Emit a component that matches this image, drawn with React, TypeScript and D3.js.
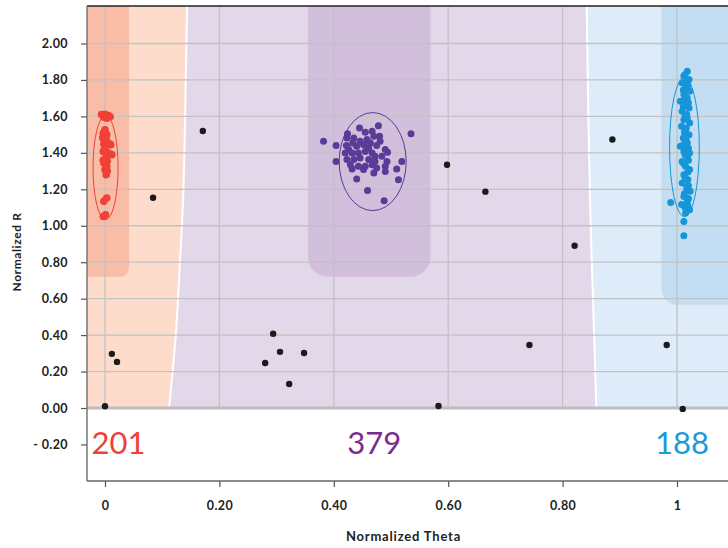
import React, { useEffect, useRef } from 'react'
import * as d3 from 'd3'

const width = 728
const height = 548

// [theta, r]
const redPoints = [
  [-0.006, 1.61], [0, 1.612], [0.006, 1.605], [-0.002, 1.595], [0.009, 1.598], [0.003, 1.59],
  [0, 1.527], [-0.003, 1.509], [0.003, 1.5], [-0.004, 1.482], [0.002, 1.473], [-0.002, 1.449],
  [0.006, 1.454], [0.01, 1.445], [0, 1.427], [-0.003, 1.408], [0.006, 1.399], [0.012, 1.39],
  [0.002, 1.375], [-0.003, 1.36], [0.004, 1.355], [-0.002, 1.344], [0.003, 1.326], [0, 1.308],
  [0.004, 1.3], [0.002, 1.28], [-0.002, 1.134], [0.003, 1.152], [-0.003, 1.051], [0.001, 1.06]
]

const purplePoints = [
  [0.382, 1.463], [0.404, 1.441], [0.404, 1.353], [0.535, 1.505], [0.478, 1.549], [0.445, 1.537],
  [0.424, 1.505], [0.423, 1.482], [0.435, 1.482], [0.455, 1.513], [0.467, 1.518], [0.47, 1.491],
  [0.48, 1.491], [0.458, 1.473], [0.446, 1.463], [0.433, 1.454], [0.422, 1.44], [0.426, 1.418],
  [0.44, 1.436], [0.452, 1.445], [0.464, 1.454], [0.475, 1.44], [0.49, 1.418], [0.494, 1.403],
  [0.42, 1.399], [0.432, 1.399], [0.443, 1.399], [0.455, 1.408], [0.467, 1.399], [0.472, 1.381],
  [0.484, 1.381], [0.423, 1.363], [0.435, 1.363], [0.446, 1.372], [0.461, 1.363], [0.472, 1.353],
  [0.493, 1.353], [0.519, 1.353], [0.429, 1.335], [0.443, 1.326], [0.455, 1.326], [0.467, 1.335],
  [0.475, 1.317], [0.49, 1.326], [0.51, 1.311], [0.432, 1.311], [0.452, 1.308], [0.47, 1.29],
  [0.49, 1.298], [0.44, 1.256], [0.513, 1.253], [0.459, 1.194], [0.488, 1.137], [0.481, 1.463],
  [0.461, 1.427]
]

const bluePoints = [
  [1.018, 1.848], [1.012, 1.821], [1.021, 1.802], [1.009, 1.784], [1.015, 1.756], [1.022, 1.738],
  [1.012, 1.72], [1.018, 1.701], [1.006, 1.683], [1.015, 1.665], [1.021, 1.646], [1.009, 1.628],
  [1.017, 1.61], [1.012, 1.582], [1.022, 1.564], [1.008, 1.546], [1.015, 1.527], [1.021, 1.5],
  [1.011, 1.481], [1.018, 1.454], [1.006, 1.436], [1.015, 1.418], [1.022, 1.399], [1.012, 1.408],
  [1.018, 1.381], [1.009, 1.353], [1.015, 1.326], [1.022, 1.308], [1.012, 1.28], [1.019, 1.253],
  [1.009, 1.234], [1.017, 1.207], [1.023, 1.189], [1.012, 1.161], [1.018, 1.134], [1.008, 1.116],
  [1.022, 1.088], [1.015, 1.07], [1.012, 1.024], [0.989, 1.128], [1.012, 0.945],
  [1.014, 1.83], [1.016, 1.79], [1.019, 1.77], [1.011, 1.745], [1.013, 1.69], [1.02, 1.675],
  [1.011, 1.655], [1.014, 1.6], [1.018, 1.59], [1.016, 1.535], [1.013, 1.515], [1.016, 1.47],
  [1.011, 1.445], [1.02, 1.425], [1.014, 1.39], [1.02, 1.36], [1.012, 1.34], [1.019, 1.295],
  [1.014, 1.265], [1.02, 1.22], [1.013, 1.175], [1.02, 1.15], [1.014, 1.1], [1.019, 1.11]
]

const outliers = [
  [0, 0.01], [0.012, 0.297], [0.021, 0.253], [0.084, 1.154], [0.171, 1.52], [0.294, 0.407],
  [0.306, 0.308], [0.28, 0.247], [0.348, 0.302], [0.322, 0.132], [0.583, 0.011], [0.598, 1.335],
  [0.665, 1.187], [0.742, 0.346], [0.821, 0.89], [0.887, 1.473], [0.982, 0.346], [1.01, -0.005]
]

// cluster ellipses, data units
const ellipses = [
  { color: '#ef4136', cx: 0.001, cy: 1.319, rx: 0.0219, ry: 0.286 },
  { color: '#5b3a98', cx: 0.468, cy: 1.352, rx: 0.0586, ry: 0.269 },
  { color: '#1696d8', cx: 1.013, cy: 1.431, rx: 0.026, ry: 0.382 }
]

const counts = [
  { label: '201', theta: 0.0236, color: '#ef4136' },
  { label: '379', theta: 0.4707, color: '#7b2a8e' },
  { label: '188', theta: 1.0087, color: '#1a9bd7' }
]

// region boundaries (theta at each r)
const boundaryR = [2.21, 1.6, 1.14, 0.8, 0.41, 0]
const boundaryLeft = [0.1435, 0.14, 0.1365, 0.131, 0.124, 0.112]
const boundaryRight = [0.842, 0.845, 0.848, 0.851, 0.855, 0.859]

// darker core bands: [theta0, theta1, bottom r]
const cores = [
  { t0: -0.1, t1: 0.042, r: 0.72, color: '#f9bca7', rad: 9 },
  { t0: 0.355, t1: 0.569, r: 0.72, color: '#d1bfdb', rad: 20 },
  { t0: 0.973, t1: 1.3, r: 0.566, color: '#c3def3', rad: 16 }
]

const yTicks = [-0.2, 0, 0.2, 0.4, 0.6, 0.8, 1.0, 1.2, 1.4, 1.6, 1.8, 2.0]
const xTicks = [0, 0.2, 0.4, 0.6, 0.8, 1]

const font = 'Lato, "Open Sans", sans-serif'

export default function App() {
  const svgRef = useRef<SVGSVGElement>(null)

  useEffect(() => {
    const svg = d3.select(svgRef.current)
    svg.selectAll('*').remove()

    const left = 87
    const right = 728
    const top = 6
    const bottom = 481

    const x = d3.scaleLinear().domain([0, 1]).range([105, 677])
    const y = d3.scaleLinear().domain([0, 2]).range([408, 43.5])
    const tMin = x.invert(left)
    const tMax = x.invert(right)

    svg.append('clipPath').attr('id', 'plot-area')
      .append('rect')
      .attr('x', left).attr('y', top)
      .attr('width', right - left).attr('height', y(0) - top)

    const bg = svg.append('g').attr('clip-path', 'url(#plot-area)')
    const rows = boundaryR.map((r, i) => ({ r, a: boundaryLeft[i], b: boundaryRight[i] }))

    const area = (x0, x1) => d3.area<any>()
      .y(d => y(d.r)).x0(x0).x1(x1)
      .curve(d3.curveMonotoneY)

    bg.append('path').datum(rows).attr('fill', '#fddccc')
      .attr('d', area(() => x(tMin), d => x(d.a)))
    bg.append('path').datum(rows).attr('fill', '#e2d8e9')
      .attr('d', area(d => x(d.a), d => x(d.b)))
    bg.append('path').datum(rows).attr('fill', '#ddecf8')
      .attr('d', area(d => x(d.b), () => x(tMax)))

    bg.selectAll('rect.core').data(cores).join('rect')
      .attr('class', 'core')
      .attr('x', d => x(d.t0)).attr('width', d => x(d.t1) - x(d.t0))
      .attr('y', -100).attr('height', d => y(d.r) + 100)
      .attr('rx', d => d.rad).attr('fill', d => d.color)

    const edge = (key) => d3.line<any>().x(d => x(d[key])).y(d => y(d.r)).curve(d3.curveMonotoneY)
    bg.append('path').datum(rows).attr('d', edge('a'))
      .attr('fill', 'none').attr('stroke', '#fff').attr('stroke-width', 2)
    bg.append('path').datum(rows).attr('d', edge('b'))
      .attr('fill', 'none').attr('stroke', '#fff').attr('stroke-width', 2)

    // grid
    const grid = svg.append('g').attr('stroke', '#c2c2c2').attr('stroke-width', 1.3)
    grid.selectAll('line.v').data(xTicks).join('line')
      .attr('class', 'v')
      .attr('x1', d => x(d)).attr('x2', d => x(d))
      .attr('y1', top).attr('y2', y(0))
    grid.selectAll('line.h').data(yTicks.filter(d => d > 0)).join('line')
      .attr('class', 'h')
      .attr('x1', left).attr('x2', right)
      .attr('y1', d => y(d)).attr('y2', d => y(d))

    svg.append('line')
      .attr('x1', left).attr('x2', right)
      .attr('y1', y(0)).attr('y2', y(0))
      .attr('stroke', '#bdbdbd').attr('stroke-width', 3)

    // ellipses
    svg.append('g').selectAll('ellipse').data(ellipses).join('ellipse')
      .attr('cx', d => x(d.cx)).attr('cy', d => y(d.cy))
      .attr('rx', d => x(d.rx) - x(0)).attr('ry', d => y(0) - y(d.ry))
      .attr('fill', 'none').attr('stroke', d => d.color).attr('stroke-width', 1)

    const dots = (data, color, r) => svg.append('g')
      .selectAll('circle').data(data).join('circle')
      .attr('cx', d => x(d[0])).attr('cy', d => y(d[1]))
      .attr('r', r).attr('fill', color)

    dots(redPoints, '#ef4136', 3.8)
    dots(purplePoints, '#5b3a98', 3.5)
    dots(bluePoints, '#1696d8', 3.5)
    dots(outliers, '#1b1b1b', 3.2)

    // counts
    svg.append('g').selectAll('text').data(counts).join('text')
      .attr('x', d => x(d.theta)).attr('y', y(-0.25))
      .attr('text-anchor', 'middle')
      .attr('fill', d => d.color)
      .style('font-family', font).style('font-weight', 400).style('font-size', '31px')
      .text(d => d.label)

    // frame
    svg.append('line').attr('x1', left).attr('x2', right).attr('y1', top).attr('y2', top)
      .attr('stroke', '#222').attr('stroke-width', 1.5)

    const fmt = d3.format('.2f')
    const yAxis = svg.append('g')
      .attr('transform', `translate(${left},0)`)
      .call(d3.axisLeft(y).tickValues(yTicks).tickSize(6).tickPadding(13)
        .tickFormat(d => (+d < 0 ? '- ' + fmt(-d) : fmt(+d))))
    yAxis.select('.domain').remove()
    yAxis.append('line').attr('y1', top).attr('y2', bottom).attr('stroke', '#777').attr('stroke-width', 1.5)

    const xAxis = svg.append('g')
      .attr('transform', `translate(0,${bottom})`)
      .call(d3.axisBottom(x).tickValues(xTicks).tickSize(6).tickPadding(14)
        .tickFormat(d => (d === 0 || d === 1 ? String(d) : fmt(+d))))
    xAxis.select('.domain').remove()
    xAxis.append('line').attr('x1', left).attr('x2', right).attr('stroke', '#666').attr('stroke-width', 1.5)

    ;[yAxis, xAxis].forEach(a => {
      a.selectAll('.tick line').attr('stroke', '#555').attr('stroke-width', 1.2)
      a.selectAll('.tick text')
        .attr('fill', '#222')
        .style('font-family', font).style('font-weight', 700).style('font-size', '12.5px')
        .style('letter-spacing', '0.4px')
    })

    svg.append('text')
      .attr('x', (left + right) / 2 - 4).attr('y', 541)
      .attr('text-anchor', 'middle').attr('fill', '#222')
      .style('font-family', font).style('font-weight', 700).style('font-size', '13px')
      .style('letter-spacing', '0.8px')
      .text('Normalized Theta')

    svg.append('text')
      .attr('transform', `translate(21,252) rotate(-90)`)
      .attr('text-anchor', 'middle').attr('fill', '#222')
      .style('font-family', font).style('font-weight', 700).style('font-size', '12px')
      .style('letter-spacing', '0.6px')
      .text('Normalized R')
  }, [])

  return (
    <svg ref={svgRef} width={width} height={height}
      style={{ position: 'absolute', left: 0, top: 0, background: '#fff' }} />
  )
}
